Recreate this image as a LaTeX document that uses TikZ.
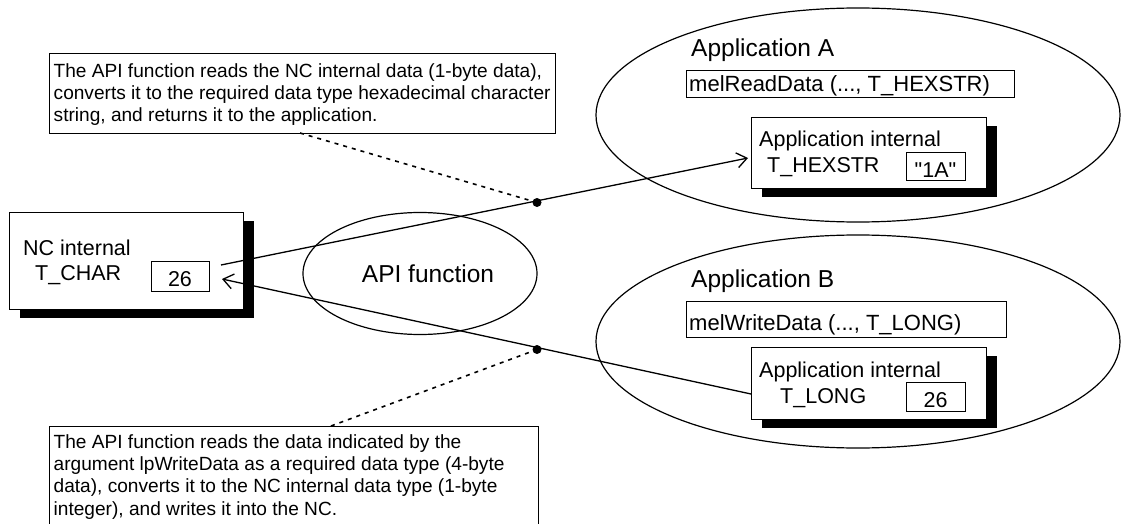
\documentclass[tikz,border=0pt]{standalone}
\usepackage{fontspec}
\setmainfont{Liberation Sans}
\newfontfamily\plainq{Liberation Sans}
\usetikzlibrary{arrows.meta,shadows,shapes.geometric}
\begin{document}
\begin{tikzpicture}[x=1pt,y=-1pt,
  box/.style={draw, line width=1.3pt, fill=white, inner sep=0pt, anchor=north west},
  shbox/.style={box, drop shadow={shadow xshift=10pt, shadow yshift=-8pt, fill=black, opacity=1}},
  ell/.style={draw, ellipse, line width=1.2pt, inner sep=0pt},
  lbl/.style={anchor=base west, inner sep=0pt, font=\fontsize{21.5}{24}\selectfont},
  big/.style={anchor=base west, inner sep=0pt, font=\fontsize{24.5}{28}\selectfont},
  call/.style={anchor=base west, inner sep=0pt, font=\fontsize{22}{26}\selectfont},
  note/.style={anchor=base west, inner sep=0pt, font=\fontsize{19.1}{22}\selectfont},
  conn/.style={line width=1.3pt},
  arr/.style={conn, -{Straight Barb[length=10pt,width=15pt,line width=1.3pt]}},
  lead/.style={line width=1.6pt, dash pattern=on 4pt off 5pt},
  dotnode/.style={circle, fill=black, inner sep=0pt, minimum size=9pt}]
\useasboundingbox (0,0) rectangle (1122,524);
\clip (0,0) rectangle (1122,524);

% ellipses
\node[ell, minimum width=524, minimum height=214] (ellA) at (858,115) {};
\node[ell, minimum width=524, minimum height=213] (ellB) at (858,341.5) {};
\node[ell, minimum width=234, minimum height=122] (api) at (420,273.5) {};
\node[big, anchor=base] (apitext) at (428,282) {API function};

% NC box
\node[shbox, minimum width=234, minimum height=97] (nc) at (9,212) {};
\node[lbl] (nct1) at (23,255) {NC internal};
\node[lbl] (nct2) at (35,280) {T\_CHAR};
\node[box, minimum width=58, minimum height=30] (nc26) at (151,261) {};
\node[lbl, anchor=base] (nc26t) at (180,286) {26};

% Application A
\node[big] (appAt) at (691,57) {Application A};
\node[box, minimum width=328, minimum height=27] (callA) at (686,70) {};
\node[call] (callAt) at (689,92) {melReadData (..., T\_HEXSTR)};
\node[shbox, minimum width=235, minimum height=71] (inA) at (751,117) {};
\node[lbl] (inAt1) at (759,147) {Application internal};
\node[lbl] (inAt2) at (767,172) {T\_HEXSTR};
\node[box, minimum width=59, minimum height=28] (hexA) at (906,152) {};
\node[lbl, anchor=base] (hexAt) at (935.5,178) {\plainq "1A"};

% Application B
\node[big] (appBt) at (691,287) {Application B};
\node[box, minimum width=320, minimum height=36] (callB) at (686,301) {};
\node[call] (callBt) at (689,330) {melWriteData (..., T\_LONG)};
\node[shbox, minimum width=235, minimum height=72] (inB) at (751,347) {};
\node[lbl] (inBt1) at (759,377) {Application internal};
\node[lbl] (inBt2) at (780,403) {T\_LONG};
\node[box, minimum width=59, minimum height=29] (longB) at (906,382) {};
\node[lbl, anchor=base] (longBt) at (935.5,407) {26};

% notes
\node[box, minimum width=506, minimum height=80] (topnote) at (49,53) {};
\node[note] (tn1) at (53.5,78) {The API function reads the NC internal data (1-byte data),};
\node[note] (tn2) at (53.5,100) {converts it to the required data type hexadecimal character};
\node[note] (tn3) at (53.5,122) {string, and returns it to the application.};

\node[box, minimum width=489, minimum height=110] (botnote) at (49,426) {};
\node[note] (bn1) at (53.5,448) {The API function reads the data indicated by the};
\node[note] (bn2) at (53.5,470) {argument lpWriteData as a required data type (4-byte};
\node[note] (bn3) at (53.5,492.5) {data), converts it to the NC internal data type (1-byte};
\node[note] (bn4) at (53.5,515) {integer), and writes it into the NC.};

% connectors
\coordinate (ncout) at (221,265);
\coordinate (ncin) at (222,279);
\coordinate (ainA) at (748,158);
\coordinate (aoutB) at (751,394);
\draw[arr] (ncout) -- (ainA);
\draw[arr] (aoutB) -- (ncin);

\node[dotnode] (dA) at (537,202.5) {};
\node[dotnode] (dB) at (537,349.5) {};
\coordinate (tA) at (300,133);
\coordinate (tB) at (331,426);
\draw[lead] (tA) -- (dA.center);
\draw[lead] (tB) -- (dB.center);
\end{tikzpicture}
\end{document}
